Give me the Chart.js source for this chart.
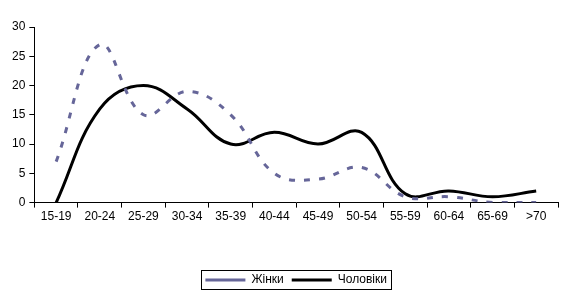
<!DOCTYPE html>
<html lang="uk">
<head>
    <meta charset="UTF-8">
    <style>
        html, body { margin: 0; padding: 0; background: #fff; }
        #wrap { width: 579px; height: 298px; position: relative; }
    </style>
</head>

<body>
<script src="https://cdn.jsdelivr.net/npm/chart.js@4.4.0/dist/chart.umd.min.js"></script>
<div id="wrap"><canvas id="line-chart"></canvas></div>
<script>

    // age groups
    var age_labels = ['15-19', '20-24', '25-29', '30-34', '35-39', '40-44', '45-49', '50-54', '55-59', '60-64', '65-69', '>70']
    // values
    var women = [7, 27, 15, 19, 15, 5, 4, 6, 1, 1, 0, 0]
    var men = [0, 16, 20, 16, 10, 12, 10, 12, 1.5, 2, 1, 2]
    var y_ticks = [0, 5, 10, 15, 20, 25, 30]

    var FONT = { family: '"Liberation Sans", Arial, sans-serif', size: 12 }

    // frame round the legend, like the original
    var legendFrame = {
        id: 'legendFrame',
        afterDraw: function (chart) {
            var boxes = chart.legend.legendHitBoxes
            if (!boxes || !boxes.length) return
            var left = Math.min.apply(null, boxes.map(b => b.left))
            var right = Math.max.apply(null, boxes.map(b => b.left + b.width))
            var top = Math.min.apply(null, boxes.map(b => b.top))
            var bottom = Math.max.apply(null, boxes.map(b => b.top + b.height))
            var ctx = chart.ctx
            ctx.save()
            ctx.strokeStyle = '#000'
            ctx.lineWidth = 1
            ctx.setLineDash([])
            ctx.strokeRect(Math.round(left - 4) + 0.5, Math.round(top - 4) + 0.5,
                Math.round(right - left + 8), Math.round(bottom - top + 7))
            ctx.restore()
        }
    }

    new Chart(document.getElementById('line-chart'), {
        type: 'line',
        data: {
            labels: age_labels,
            datasets: [
                {
                    label: 'Жінки',
                    data: women,
                    borderColor: '#666699',
                    backgroundColor: '#666699',
                    borderWidth: 3,
                    borderDash: [6, 9],
                    borderCapStyle: 'butt',
                    pointRadius: 0,
                    tension: 0.4,
                    fill: false
                },
                {
                    label: 'Чоловіки',
                    data: men,
                    borderColor: '#000000',
                    backgroundColor: '#000000',
                    borderWidth: 3,
                    pointRadius: 0,
                    tension: 0.4,
                    fill: false
                }
            ]
        },
        options: {
            responsive: true,
            maintainAspectRatio: false,
            animation: false,
            layout: { padding: { left: 8, right: 21, top: 27, bottom: 2 } },
            plugins: {
                tooltip: { enabled: false },
                legend: {
                    position: 'bottom',
                    fullSize: false,
                    labels: {
                        usePointStyle: true,
                        pointStyle: 'line',
                        pointStyleWidth: 40,
                        boxHeight: 12,
                        padding: 8,
                        color: '#000',
                        font: FONT
                    }
                }
            },
            scales: {
                x: {
                    offset: true,
                    afterFit: function (axis) {
                        axis.height += 40 // gap between the axis labels and the legend
                    },
                    grid: {
                        display: true,
                        offset: true,
                        drawOnChartArea: false,
                        drawTicks: true,
                        tickLength: 5,
                        color: '#000'
                    },
                    border: { display: true, color: '#000', width: 1 },
                    ticks: { color: '#000', font: FONT, maxRotation: 0, autoSkip: false, padding: 2 }
                },
                y: {
                    min: 0,
                    max: 30,
                    afterBuildTicks: function (axis) {
                        axis.ticks = y_ticks.map(v => ({ value: v }))
                    },
                    grid: {
                        display: true,
                        drawOnChartArea: false,
                        drawTicks: true,
                        tickLength: 5,
                        color: '#000'
                    },
                    border: { display: true, color: '#000', width: 1 },
                    ticks: { color: '#000', font: FONT, padding: 4 }
                }
            }
        },
        plugins: [legendFrame]
    });
</script>

</body>

</html>
